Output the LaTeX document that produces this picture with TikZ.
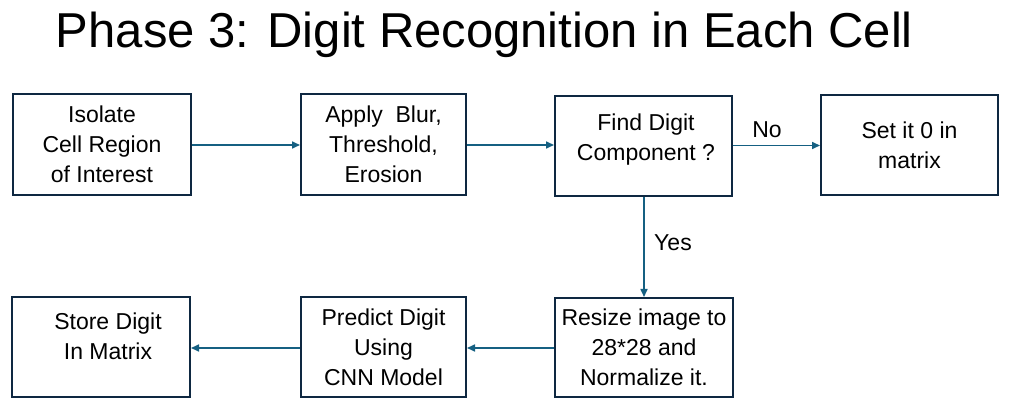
\documentclass[tikz,border=0pt]{standalone}
\usepackage{fontspec}
\setmainfont{Liberation Sans}
\usetikzlibrary{arrows.meta}
\definecolor{boxc}{HTML}{0E2841}
\definecolor{arrc}{HTML}{156082}
\begin{document}
\begin{tikzpicture}[x=1pt,y=-1pt,
  box/.style={draw=boxc, line width=2pt, inner sep=0pt, align=center,
    font=\fontsize{23}{30}\selectfont, text=black},
  arr/.style={draw=arrc, line width=1.6pt, -{Triangle[length=8pt,width=7pt]}},
  lbl/.style={font=\fontsize{23}{30}\selectfont, text=black}]
\fill[white] (0,0) rectangle (1015,411);
\useasboundingbox (0,0) rectangle (1015,411);
\node[anchor=base, font=\fontsize{49}{55}\selectfont] (title) at (484.5,48) {Phase 3: Digit Recognition in Each Cell};
\node[box, minimum width=178pt, minimum height=101pt] (b1) at (102,144.5) {Isolate\\Cell Region\\of Interest};
\node[box, minimum width=165pt, minimum height=101pt] (b2) at (383.5,144.5) {Apply\ \ Blur,\\Threshold,\\Erosion};
\node[box, minimum width=177pt, minimum height=100pt] (b3) at (643.5,146) {};
\node[lbl, align=center] (t3) at (646,140) {Find Digit\\Component ?};
\node[box, minimum width=177pt, minimum height=100pt] (b4) at (909.5,145) {Set it 0 in\\matrix};
\node[box, minimum width=178pt, minimum height=100pt] (b5) at (101,347) {};
\node[lbl, align=center] (t5) at (108,336) {Store Digit\\In Matrix};
\node[box, minimum width=165pt, minimum height=100pt] (b6) at (383.5,347) {Predict Digit\\Using\\CNN Model};
\node[box, minimum width=178pt, minimum height=99pt] (b7) at (644,347.5) {Resize image to\\28*28 and\\Normalize it.};
\draw[arr] (b1.east |- 0,145) -- (b2.west |- 0,145);
\draw[arr] (b2.east |- 0,145) -- (b3.west |- 0,145);
\draw[arr] (b3.east |- 0,145.5) -- (b4.west |- 0,145.5);
\draw[arr] (b3.south -| 644,0) -- (b7.north -| 644,0);
\draw[arr] (b7.west |- 0,348) -- (b6.east |- 0,348);
\draw[arr] (b6.west |- 0,348) -- (b5.east |- 0,348);
\node[lbl] (no) at (767,130) {No};
\node[lbl] (yes) at (673,243) {Yes};
\end{tikzpicture}
\end{document}
